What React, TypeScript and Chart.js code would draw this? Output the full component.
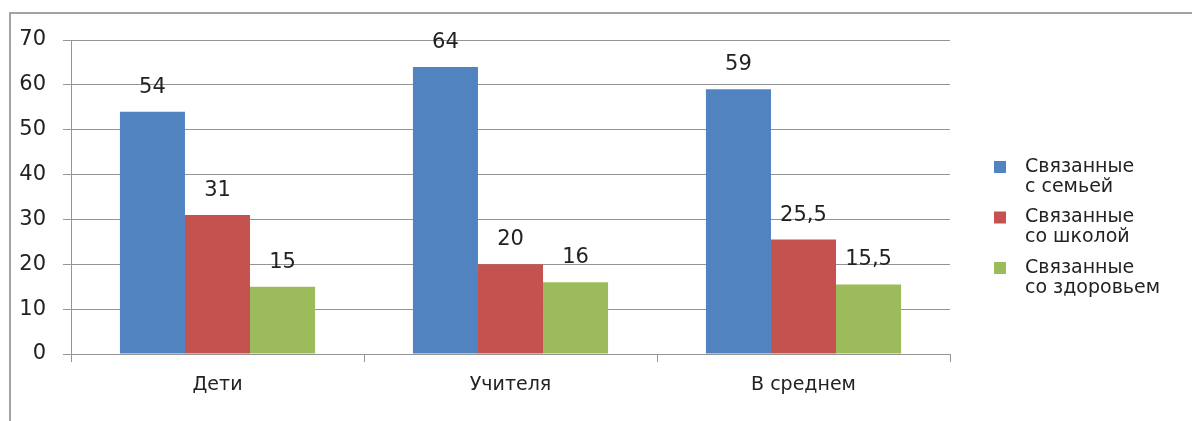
import React, { useEffect, useRef } from "react";
import { Chart, registerables } from "chart.js";

Chart.register(...registerables);

const categories = ["Дети", "Учителя", "В среднем"];
const seriesNames = [["Связанные", "с семьей"], ["Связанные", "со школой"], ["Связанные", "со здоровьем"]];
const familyValues = [54, 64, 59];
const schoolValues = [31, 20, 25.5];
const healthValues = [15, 16, 15.5];
const seriesColors = ["#5283C1", "#C4534F", "#9CBB5B"];
const yTicks = [0, 10, 20, 30, 40, 50, 60, 70];

const FONT = "'DejaVu Sans', sans-serif";
const TEXT_COLOR = "#222222";
const GRID_COLOR = "#959595";

const fmt = (v: number) => String(v).replace(".", ",");

const framePlugin = {
  id: "frame",
  beforeDraw(chart: any) {
    const ctx = chart.ctx;
    ctx.save();
    ctx.fillStyle = "#ffffff";
    ctx.fillRect(0, 0, chart.width, chart.height);
    ctx.strokeStyle = "#a3a3a3";
    ctx.lineWidth = 2;
    ctx.beginPath();
    ctx.moveTo(10, chart.height);
    ctx.lineTo(10, 13);
    ctx.lineTo(chart.width, 13);
    ctx.stroke();
    ctx.restore();
  },
};

const labelPlugin = {
  id: "valueLabels",
  afterDatasetsDraw(chart: any) {
    const ctx = chart.ctx;
    ctx.save();
    ctx.font = `21px ${FONT}`;
    ctx.fillStyle = TEXT_COLOR;
    ctx.textAlign = "center";
    ctx.textBaseline = "alphabetic";
    chart.data.datasets.forEach((ds: any, i: number) => {
      const meta = chart.getDatasetMeta(i);
      meta.data.forEach((bar: any, j: number) => {
        ctx.fillText(fmt(ds.data[j]), bar.x, bar.y - 19);
      });
    });
    ctx.restore();
  },
};

const legendPlugin = {
  id: "customLegend",
  afterDraw(chart: any) {
    const ctx = chart.ctx;
    ctx.save();
    ctx.font = `19px ${FONT}`;
    ctx.textAlign = "left";
    ctx.textBaseline = "middle";
    chart.data.datasets.forEach((ds: any, i: number) => {
      const y0 = 167 + i * 50.5;
      ctx.fillStyle = ds.backgroundColor;
      ctx.fillRect(994, y0 - 6, 12, 12);
      ctx.fillStyle = TEXT_COLOR;
      const lines: string[] = seriesNames[i];
      lines.forEach((ln, k) => ctx.fillText(ln, 1025, y0 + k * 20));
    });
    ctx.restore();
  },
};

export default function App() {
  const ref = useRef<HTMLCanvasElement>(null);
  useEffect(() => {
    if (!ref.current) return;
    const values = [familyValues, schoolValues, healthValues];
    const chart = new Chart(ref.current, {
      type: "bar",
      data: {
        labels: categories,
        datasets: values.map((d, i) => ({
          label: seriesNames[i].join(" "),
          data: d,
          backgroundColor: seriesColors[i],
          borderWidth: 0,
          categoryPercentage: 0.666,
          barPercentage: 1,
        })),
      },
      options: {
        animation: false,
        responsive: false,
        maintainAspectRatio: false,
        layout: { padding: { left: 0, right: 242, top: 40, bottom: 0 } },
        plugins: { legend: { display: false }, tooltip: { enabled: false } },
        scales: {
          x: {
            grid: {
              display: true,
              offset: true,
              drawOnChartArea: false,
              drawTicks: true,
              tickLength: 8,
              color: GRID_COLOR,
            },
            border: { display: true, color: GRID_COLOR, width: 1 },
            ticks: { color: TEXT_COLOR, font: { family: FONT, size: 19 }, padding: 12 },
            afterFit: (s: any) => { s.height = 67; },
          },
          y: {
            min: 0,
            max: 70,
            afterBuildTicks: (s: any) => { s.ticks = yTicks.map((v) => ({ value: v })); },
            grid: { color: GRID_COLOR, tickLength: 8, drawTicks: true },
            border: { display: true, color: GRID_COLOR, width: 1 },
            ticks: { color: TEXT_COLOR, font: { family: FONT, size: 21 }, padding: 17 },
            afterFit: (s: any) => { s.width = 71; },
          },
        },
      },
      plugins: [framePlugin, labelPlugin, legendPlugin],
    });
    return () => chart.destroy();
  }, []);
  return (
    <div style={{ position: "absolute", left: 0, top: 0, width: 1192, height: 421 }}>
      <canvas ref={ref} width={1192} height={421} style={{ width: 1192, height: 421, display: "block" }} />
    </div>
  );
}
